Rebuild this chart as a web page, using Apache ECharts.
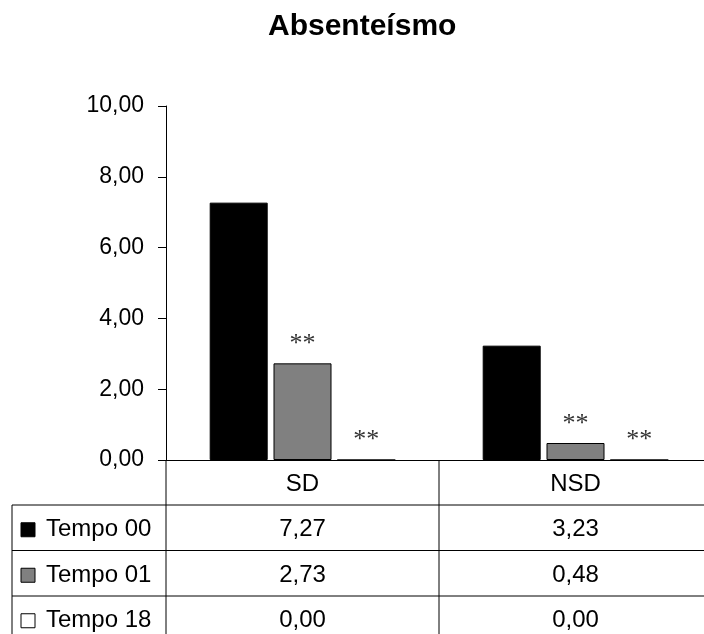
<!DOCTYPE html>
<html>
<head>
<meta charset="utf-8">
<script src="https://cdn.jsdelivr.net/npm/echarts@6/dist/echarts.min.js"></script>
<style>
  html, body { margin: 0; padding: 0; background: #fff; overflow: hidden; }
  #chart { width: 720px; height: 634px; }
</style>
</head>
<body>
<div id="chart"></div>
<script>
// dados do gráfico
var categories = ['SD', 'NSD'];
var seriesNames = ['Tempo 00', 'Tempo 01', 'Tempo 18'];
var tempo00 = [7.27, 3.23];
var tempo01 = [2.73, 0.48];
var tempo18 = [0.00, 0.00];
var markers = ['', '**', '**'];
var colors = ['#000000', '#808080', '#ffffff'];

var fmt = function (v) { return v.toFixed(2).replace('.', ','); };
var FONT = 'Liberation Sans, Arial, sans-serif';

var myChart = echarts.init(document.getElementById('chart'));
var values = [tempo00, tempo01, tempo18];

var series = seriesNames.map(function (name, i) {
  return {
    name: name,
    type: 'bar',
    data: values[i],
    barWidth: 58,
    barGap: '10%',
    itemStyle: { color: colors[i], borderColor: '#000', borderWidth: 1 },
    label: {
      show: markers[i] !== '',
      position: 'top',
      distance: 6,
      formatter: markers[i],
      fontFamily: 'Liberation Serif, Times New Roman, serif',
      fontSize: 26,
      color: '#333'
    },
    animation: false
  };
});

myChart.setOption({
  animation: false,
  title: {
    text: 'Absenteísmo',
    left: 263,
    top: 7,
    textStyle: { fontFamily: FONT, fontSize: 30, fontWeight: 'bold', color: '#000' }
  },
  grid: { left: 166, top: 106, width: 546, height: 354 },
  xAxis: {
    type: 'category',
    data: categories,
    axisLine: { lineStyle: { color: '#000', width: 1 } },
    axisTick: { show: false },
    axisLabel: { fontFamily: FONT, fontSize: 24, color: '#000', margin: 12 }
  },
  yAxis: {
    type: 'value',
    min: 0,
    max: 10,
    interval: 2,
    splitLine: { show: false },
    axisLine: { show: true, lineStyle: { color: '#000', width: 1 } },
    axisTick: { show: true, length: 8, lineStyle: { color: '#000' } },
    axisLabel: {
      fontFamily: FONT, fontSize: 23, color: '#000', margin: 22,
      formatter: function (v) { return fmt(v); }
    }
  },
  series: series
});

// tabela de dados abaixo do eixo
var x0 = myChart.convertToPixel({ xAxisIndex: 0 }, 0);
var x1 = myChart.convertToPixel({ xAxisIndex: 0 }, 1);
var step = x1 - x0;
var axisY = myChart.convertToPixel({ yAxisIndex: 0 }, 0);
var leftX = 166, tableLeft = 12, rightX = leftX + step * categories.length;
var headH = 45, rowH = 45.5;
var bottomY = axisY + headH + rowH * seriesNames.length;
var line = function (xa, ya, xb, yb) {
  return { type: 'line', shape: { x1: xa, y1: ya, x2: xb, y2: yb }, style: { stroke: '#000', lineWidth: 1 }, z: 10 };
};
var els = [];
els.push(line(leftX, axisY, leftX, bottomY));
els.push(line(leftX + step, axisY, leftX + step, bottomY));
els.push(line(rightX, axisY, rightX, bottomY));
els.push(line(tableLeft, axisY + headH, tableLeft, bottomY));
for (var r = 0; r <= seriesNames.length; r++) {
  var yy = axisY + headH + rowH * r;
  els.push(line(tableLeft, yy, rightX, yy));
}
seriesNames.forEach(function (name, i) {
  var cy = axisY + headH + rowH * i + rowH / 2 + 2;
  els.push({ type: 'rect', shape: { x: 21, y: cy - 7, width: 14, height: 14 },
    style: { fill: colors[i], stroke: '#000', lineWidth: 1 }, z: 10 });
  els.push({ type: 'text', x: 46, y: cy, style: { text: name, font: '24px ' + FONT, fill: '#000', textAlign: 'left', textVerticalAlign: 'middle' }, z: 10 });
  values[i].forEach(function (v, j) {
    els.push({ type: 'text', x: myChart.convertToPixel({ xAxisIndex: 0 }, j), y: cy,
      style: { text: fmt(v), font: '24px ' + FONT, fill: '#000', textAlign: 'center', textVerticalAlign: 'middle' }, z: 10 });
  });
});
myChart.setOption({ graphic: els });

window.addEventListener('resize', function () { myChart.resize(); });
</script>
</body>
</html>
